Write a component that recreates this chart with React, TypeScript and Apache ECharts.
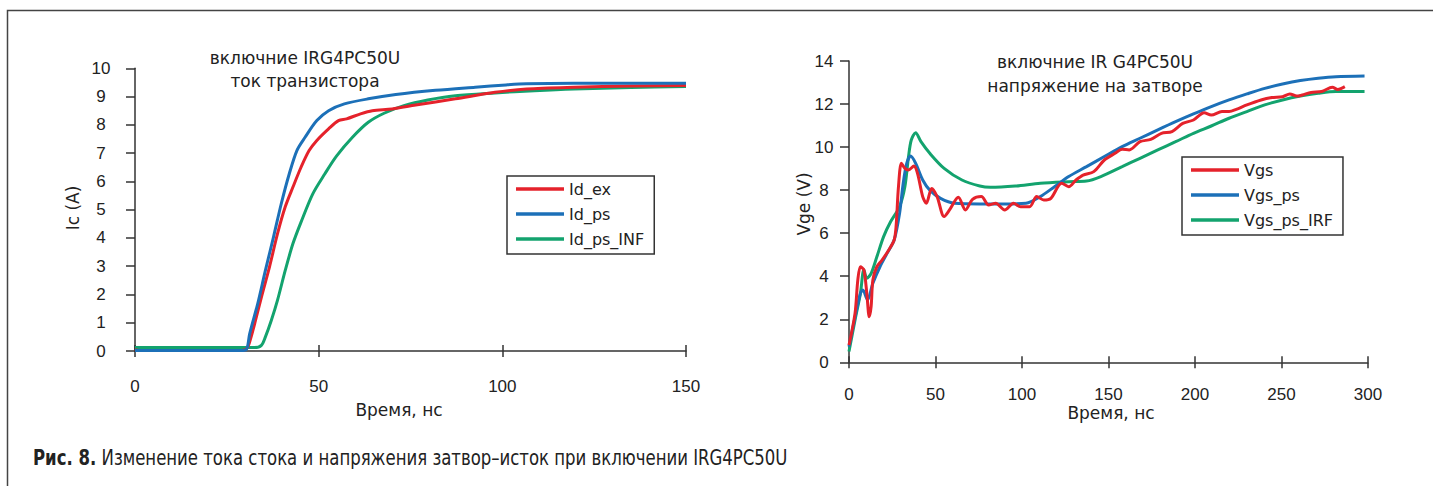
import React, { useEffect, useRef } from "react";
import * as echarts from "echarts";

// ---------- Left chart: collector current (A) vs time (ns) ----------
const idExT = [0, 1, 29, 30.5, 31.5, 32.8, 34.4, 36.6, 38.8, 40.9, 43, 45.2, 47.4, 49.5, 52.7, 55.4, 57.6, 61.4, 64.6, 70, 76.4, 87.2, 98, 106.6, 119.5, 135, 150];
const idExV = [0.05, 0.02, 0.02, 0.1, 0.45, 1.08, 1.9, 2.97, 4.15, 5.1, 5.8, 6.5, 7.09, 7.45, 7.86, 8.15, 8.21, 8.39, 8.5, 8.56, 8.7, 8.92, 9.15, 9.27, 9.33, 9.37, 9.39];

const idPsT = [0, 29.5, 30.5, 31.2, 33.4, 35.5, 37.7, 39.8, 42, 44.1, 46.3, 49.5, 52.7, 57, 63.5, 71, 81.8, 92.6, 101, 106.6, 119.5, 150];
const idPsV = [0.02, 0.02, 0.1, 0.6, 1.67, 2.85, 4.03, 5.2, 6.27, 7.1, 7.56, 8.15, 8.5, 8.74, 8.92, 9.07, 9.22, 9.33, 9.41, 9.45, 9.47, 9.47];

const idInfT = [0, 32.5, 34.4, 35.5, 37.1, 38.8, 40.9, 43, 45.2, 48.4, 51.7, 54.9, 59.2, 63.5, 67.8, 73.2, 79.7, 87.2, 98, 108.7, 119.5, 135, 150];
const idInfV = [0.12, 0.12, 0.2, 0.5, 1.08, 1.8, 2.85, 3.8, 4.56, 5.56, 6.27, 6.9, 7.56, 8.09, 8.41, 8.68, 8.88, 9.03, 9.13, 9.21, 9.27, 9.32, 9.36];

// ---------- Right chart: gate voltage (V) vs time (ns) ----------
const vgsT = [0, 3.5, 5.1, 6.6, 8.6, 10.3, 11.7, 12.8, 13.8, 16.1, 19.1, 23, 26.1, 27.2, 28.6, 30.3, 32.3, 34.4, 37.5, 39.6, 42.6, 44.7, 47.8, 50.9, 55, 58.1, 63.2, 67.3, 71.4, 76.5, 80.7, 84.8, 90, 95.1, 99.2, 104.4, 108.5, 112.6, 116.7, 122.9, 127, 131.2, 135.3, 141.5, 147.6, 153.8, 157.9, 162, 168.2, 174.4, 180.6, 186.7, 192.9, 199.1, 205.3, 209.4, 215.6, 219.7, 223.8, 230, 238.2, 244.4, 250.6, 254.8, 258.8, 262, 267.1, 273.2, 279.4, 282.5, 286.6];
const vgsV = [0.8, 2.28, 3.83, 4.44, 4.29, 3.2, 2.12, 2.6, 3.83, 4.44, 4.75, 5.22, 5.68, 6.3, 8.16, 9.25, 9.01, 8.94, 9.12, 8.78, 7.7, 7.39, 8.08, 7.7, 6.77, 7.08, 7.67, 7.08, 7.57, 7.7, 7.31, 7.39, 7.08, 7.39, 7.23, 7.23, 7.7, 7.54, 7.62, 8.32, 8.16, 8.47, 8.7, 8.86, 9.4, 9.71, 9.9, 9.87, 10.25, 10.36, 10.64, 10.72, 11.1, 11.26, 11.6, 11.49, 11.65, 11.65, 11.75, 11.96, 12.19, 12.3, 12.34, 12.47, 12.37, 12.42, 12.54, 12.58, 12.78, 12.68, 12.81];

const vgsPsT = [0, 3.5, 6.6, 8, 10.7, 13.8, 17.9, 22, 26.1, 29.2, 31.3, 33.4, 35.6, 38.5, 42.6, 46.7, 52.9, 61.1, 75.6, 90, 102.3, 110.6, 118.8, 127, 137.3, 147.6, 157.9, 168.2, 178.5, 188.8, 199.1, 209.4, 219.7, 230, 240.3, 250.6, 260.9, 271.2, 281.5, 298];
const vgsPsV = [0.73, 2.1, 3.2, 3.36, 2.9, 3.67, 4.44, 5.06, 5.68, 6.9, 8.3, 9.25, 9.58, 9.25, 8.47, 8.0, 7.62, 7.39, 7.36, 7.36, 7.39, 7.7, 8.16, 8.63, 9.09, 9.56, 10.02, 10.41, 10.8, 11.18, 11.54, 11.88, 12.19, 12.47, 12.73, 12.93, 13.09, 13.2, 13.27, 13.3];

const vgsIrfT = [0, 3.5, 6.6, 8.6, 10.3, 12.8, 16.1, 20, 24.1, 29.2, 32.3, 34.4, 36, 38.5, 41.6, 46.7, 55, 65.3, 75.6, 81.7, 96.1, 110.6, 127, 137.3, 145.6, 157.9, 168.2, 178.5, 188.8, 199.1, 209.4, 219.7, 230, 240.3, 250.6, 260.9, 271.2, 281.5, 298];
const vgsIrfV = [0.5, 1.97, 3.2, 4.3, 3.9, 4.13, 4.9, 5.84, 6.54, 7.23, 8.16, 9.55, 10.33, 10.67, 10.25, 9.71, 9.01, 8.47, 8.19, 8.13, 8.19, 8.32, 8.39, 8.42, 8.63, 9.09, 9.48, 9.87, 10.25, 10.64, 10.98, 11.34, 11.65, 11.96, 12.19, 12.37, 12.5, 12.58, 12.58];

const leftLegend = ["Id_ex", "Id_ps", "Id_ps_INF"];
const rightLegend = ["Vgs", "Vgs_ps", "Vgs_ps_IRF"];

const leftTitle = ["включние IRG4PC50U", "ток транзистора"];
const rightTitle = ["включние IR G4PC50U", "напряжение на затворе"];
const xName = "Время, нс";
const leftYName = "Ic (A)";
const rightYName = "Vge (V)";
const captionBold = "Рис. 8.";
const captionText = "Изменение тока стока и напряжения затвор–исток при включении IRG4PC50U";

const RED = "#e5222b";
const BLUE = "#1c70b8";
const GREEN = "#13a36e";
const AXIS = "#333";
const TXT = "#222";
const F_TEXT = "'DejaVu Sans', sans-serif";
const F_TICK = "'Liberation Sans', Arial, sans-serif";
const F_CAP = "'DejaVu Sans Condensed', 'DejaVu Sans', sans-serif";

const zip = (t: number[], v: number[]) => t.map((x, i) => [x, v[i]]);

function mainX(grid: number, max: number, interval: number, margin: number) {
  return {
    type: "value", gridIndex: grid, position: "bottom", min: 0, max, interval,
    axisLine: { show: true, onZero: false, lineStyle: { color: AXIS, width: 1.5 } },
    axisTick: { show: true, length: 6, lineStyle: { color: AXIS, width: 1.5 } },
    axisLabel: { margin, color: TXT, fontSize: 17, fontFamily: F_TICK },
    splitLine: { show: false },
  };
}
function auxX(grid: number, max: number, interval: number) {
  return {
    type: "value", gridIndex: grid, position: "bottom", min: 0, max, interval,
    axisLine: { show: false, onZero: false },
    axisTick: { show: true, inside: true, length: 6, lineStyle: { color: AXIS, width: 1.5 } },
    axisLabel: { show: false },
    splitLine: { show: false },
  };
}
function yAx(grid: number, max: number, interval: number, margin: number) {
  return {
    type: "value", gridIndex: grid, min: 0, max, interval,
    axisLine: { show: true, onZero: false, lineStyle: { color: AXIS, width: 1.5 } },
    axisTick: { show: true, length: 9, lineStyle: { color: AXIS, width: 1.5 } },
    axisLabel: { margin, align: "center", color: TXT, fontSize: 17, fontFamily: F_TICK },
    splitLine: { show: false },
  };
}
function line(name: string, color: string, data: number[][], xi: number, yi: number, z: number) {
  return {
    type: "line", name, data, xAxisIndex: xi, yAxisIndex: yi, z,
    showSymbol: false, symbol: "none", smooth: 0.3, color,
    lineStyle: { color, width: 3 }, itemStyle: { color },
  };
}
function legend(names: string[], left: number, top: number) {
  return {
    data: names, orient: "vertical", left, top,
    padding: [3, 10, 5, 9], itemGap: 5, itemWidth: 48, itemHeight: 3.5, icon: "rect",
    borderColor: AXIS, borderWidth: 1.5, backgroundColor: "#fff",
    textStyle: { fontSize: 16, fontFamily: F_TEXT, color: TXT, lineHeight: 20 },
  };
}
function txt(text: string, x: number, y: number, size = 17, rotation = 0) {
  return {
    type: "text", x, y, rotation, silent: true,
    style: { text, fill: TXT, fontSize: size, fontFamily: F_TEXT, align: "center", verticalAlign: "middle" },
  };
}

export default function App() {
  const ref = useRef<HTMLDivElement>(null);
  useEffect(() => {
    if (!ref.current) return;
    const chart = echarts.init(ref.current, null, { renderer: "svg" });
    chart.setOption({
      animation: false,
      backgroundColor: "#fff",
      grid: [
        { left: 135, top: 68.3, width: 551, height: 282.7 },
        { left: 849, top: 61, width: 519, height: 301.3 },
      ],
      xAxis: [mainX(0, 150, 50, 27), auxX(0, 150, 50), mainX(1, 300, 50, 24), auxX(1, 300, 50)],
      yAxis: [yAx(0, 10, 1, 34), yAx(1, 14, 2, 25)],
      legend: [legend(leftLegend, 507, 176), legend(rightLegend, 1182, 157)],
      series: [
        line("Id_ps_INF", GREEN, zip(idInfT, idInfV), 0, 0, 2),
        line("Id_ex", RED, zip(idExT, idExV), 0, 0, 3),
        line("Id_ps", BLUE, zip(idPsT, idPsV), 0, 0, 4),
        line("Vgs_ps_IRF", GREEN, zip(vgsIrfT, vgsIrfV), 2, 1, 2),
        line("Vgs_ps", BLUE, zip(vgsPsT, vgsPsV), 2, 1, 3),
        line("Vgs", RED, zip(vgsT, vgsV), 2, 1, 4),
      ],
      graphic: [
        {
          type: "rect", silent: true, z: -10,
          shape: { x: 7.5, y: 10.5, width: 1600, height: 600 },
          style: { fill: "none", stroke: "#444", lineWidth: 1.5 },
        },
        txt(leftTitle[0], 305, 58),
        txt(leftTitle[1], 305, 81),
        txt(rightTitle[0], 1095, 62),
        txt(rightTitle[1], 1095, 86),
        txt(xName, 399, 410),
        txt(xName, 1111, 413),
        txt(leftYName, 73, 208, 17, Math.PI / 2),
        txt(rightYName, 804, 204, 17, Math.PI / 2),
        {
          type: "text", x: 33, y: 458, scaleX: 0.875, silent: true,
          style: {
            text: "{b|" + captionBold + "} {n|" + captionText + "}",
            verticalAlign: "middle", align: "left",
            fontSize: 21, fontFamily: F_CAP, fill: TXT,
            rich: {
              b: { fontSize: 21, fontFamily: F_CAP, fontWeight: "bold", fill: TXT },
              n: { fontSize: 21, fontFamily: F_CAP, fill: TXT },
            },
          },
        },
      ],
    });
    return () => chart.dispose();
  }, []);
  return (
    <div
      ref={ref}
      style={{ position: "fixed", left: 0, top: 0, width: 1433, height: 486, background: "#fff" }}
    />
  );
}
